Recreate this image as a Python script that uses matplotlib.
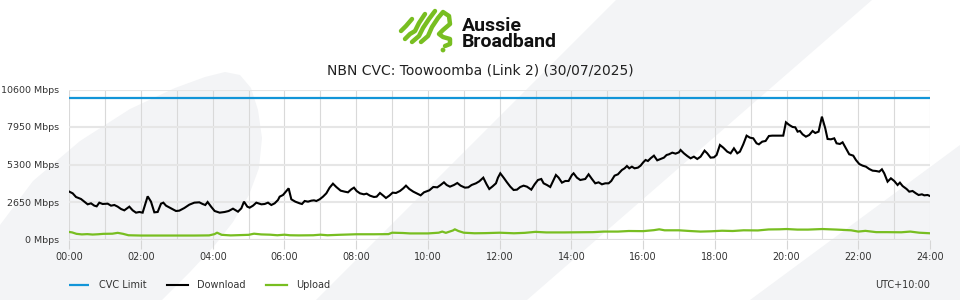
import matplotlib
matplotlib.use("Agg")
import matplotlib.pyplot as plt
from matplotlib.patches import Polygon, Circle

# ---------------- data ----------------
title = "NBN CVC: Toowoomba (Link 2) (30/07/2025)"
cvc_limit_mbps = 10000

dl_hours = [0.000, 0.094, 0.187, 0.326, 0.419, 0.512, 0.605, 0.698, 0.763, 0.837,
            0.930, 1.070, 1.163, 1.256, 1.349, 1.442, 1.534, 1.674, 1.767, 1.860,
            1.953, 2.045, 2.185, 2.278, 2.371, 2.464, 2.557, 2.622, 2.697, 2.836,
            2.975, 3.068, 3.208, 3.347, 3.486, 3.625, 3.718, 3.792, 3.857, 3.960,
            4.053, 4.193, 4.332, 4.444, 4.564, 4.704, 4.797, 4.871, 4.964, 5.029,
            5.122, 5.215, 5.355, 5.448, 5.540, 5.633, 5.726, 5.819, 5.866, 5.959,
            6.051, 6.116, 6.191, 6.302, 6.423, 6.488, 6.563, 6.656, 6.749, 6.823,
            6.888, 6.981, 7.074, 7.167, 7.259, 7.352, 7.445, 7.566, 7.678, 7.771,
            7.864, 7.938, 8.012, 8.105, 8.215, 8.291, 8.384, 8.495, 8.570, 8.663,
            8.755, 8.830, 8.923, 9.016, 9.109, 9.220, 9.313, 9.388, 9.481, 9.592,
            9.685, 9.797, 9.890, 10.039, 10.149, 10.261, 10.354, 10.447, 10.522, 10.614,
            10.726, 10.819, 10.912, 11.033, 11.126, 11.218, 11.339, 11.432, 11.544, 11.636,
            11.711, 11.804, 11.897, 11.953, 12.018, 12.111, 12.204, 12.297, 12.389, 12.482,
            12.575, 12.668, 12.761, 12.882, 12.975, 13.068, 13.161, 13.226, 13.319, 13.411,
            13.504, 13.569, 13.644, 13.737, 13.830, 13.922, 14.015, 14.062, 14.155, 14.248,
            14.387, 14.480, 14.573, 14.666, 14.759, 14.852, 14.945, 15.038, 15.112, 15.205,
            15.298, 15.409, 15.484, 15.549, 15.614, 15.688, 15.762, 15.855, 15.930, 16.004,
            16.069, 16.134, 16.209, 16.302, 16.394, 16.487, 16.580, 16.655, 16.720, 16.813,
            16.906, 16.999, 17.045, 17.138, 17.231, 17.324, 17.417, 17.510, 17.603, 17.714,
            17.789, 17.882, 17.975, 18.049, 18.142, 18.235, 18.347, 18.440, 18.533, 18.626,
            18.700, 18.793, 18.886, 18.979, 19.072, 19.164, 19.229, 19.322, 19.415, 19.508,
            19.601, 19.694, 19.815, 19.908, 19.983, 20.076, 20.169, 20.243, 20.308, 20.373,
            20.447, 20.540, 20.633, 20.726, 20.800, 20.893, 20.986, 21.079, 21.144, 21.237,
            21.330, 21.395, 21.488, 21.563, 21.655, 21.748, 21.860, 21.934, 22.027, 22.120,
            22.213, 22.306, 22.399, 22.492, 22.585, 22.659, 22.724, 22.817, 22.910, 23.003,
            23.096, 23.161, 23.235, 23.347, 23.422, 23.514, 23.607, 23.682, 23.775, 23.840,
            23.933, 23.998]
dl_mbps = [3381, 3263, 3004, 2862, 2674, 2486, 2556, 2391, 2344, 2603,
           2509, 2533, 2391, 2438, 2321, 2156, 2061, 2321, 2061, 1897,
           1944, 1897, 3051, 2674, 1920, 1944, 2533, 2603, 2391, 2203,
           2014, 2038, 2226, 2462, 2603, 2627, 2509, 2438, 2650, 2300,
           2014, 1897, 1944, 2014, 2179, 1967, 2203, 2674, 2321, 2250,
           2391, 2603, 2486, 2509, 2603, 2438, 2556, 2792, 3027, 3145,
           3428, 3616, 2839, 2674, 2556, 2509, 2721, 2674, 2745, 2768,
           2721, 2839, 3027, 3263, 3664, 3946, 3711, 3452, 3381, 3334,
           3546, 3664, 3428, 3263, 3192, 3240, 3098, 3004, 3027, 3287,
           3098, 2933, 3098, 3310, 3287, 3428, 3616, 3805, 3569, 3381,
           3263, 3122, 3334, 3475, 3711, 3687, 3852, 4040, 3852, 3734,
           3852, 3993, 3805, 3664, 3687, 3852, 3970, 4111, 4370, 3899,
           3569, 3758, 3970, 4370, 4677, 4370, 4040, 3734, 3499, 3522,
           3711, 3805, 3734, 3522, 3899, 4205, 4276, 3970, 3852, 3711,
           4205, 4559, 4370, 4017, 4135, 4135, 4559, 4677, 4370, 4205,
           4276, 4606, 4276, 3970, 4040, 3899, 3970, 3970, 4135, 4512,
           4606, 4912, 5030, 5195, 5030, 5148, 5030, 5077, 5219, 5454,
           5619, 5548, 5737, 5925, 5595, 5690, 5784, 5972, 6019, 6137,
           6067, 6161, 6326, 6090, 5902, 5737, 5855, 5690, 5855, 6279,
           6090, 5784, 5807, 5972, 6679, 6491, 6208, 6090, 6443, 6090,
           6208, 6726, 7339, 7197, 7150, 6797, 6726, 6915, 6962, 7315,
           7339, 7339, 7339, 7339, 8281, 8093, 7951, 7928, 7622, 7669,
           7433, 7268, 7386, 7669, 7527, 7622, 8682, 7857, 7103, 7080,
           7150, 6797, 6750, 6868, 6444, 6020, 5925, 5619, 5337, 5219,
           5148, 4983, 4865, 4842, 4794, 4959, 4677, 4088, 4323, 4135,
           3852, 4017, 3781, 3569, 3381, 3428, 3263, 3145, 3192, 3122,
           3145, 3075]

ul_hours = [0.0, 0.08, 0.2, 0.35, 0.5, 0.65, 0.8, 0.95, 1.2, 1.35, 1.5, 1.65, 2.0, 2.5,
            3.0, 3.5, 3.9, 4.05, 4.12, 4.25, 4.5, 5.0, 5.15, 5.35, 5.6, 5.8, 6.0, 6.15,
            6.4, 6.8, 7.0, 7.2, 7.5, 8.0, 8.5, 8.9, 9.0, 9.3, 9.5, 10.0, 10.3, 10.4,
            10.5, 10.7, 10.75, 10.85, 11.0, 11.3, 11.6, 12.0, 12.4, 12.7, 13.0, 13.3,
            13.8, 14.2, 14.6, 14.9, 15.3, 15.6, 16.0, 16.3, 16.45, 16.6, 17.0, 17.3,
            17.6, 17.9, 18.2, 18.5, 18.8, 19.2, 19.5, 19.8, 20.0, 20.3, 20.6, 21.0,
            21.4, 21.8, 22.0, 22.2, 22.5, 22.8, 23.2, 23.45, 23.7, 24.0]
ul_mbps = [530, 500, 400, 360, 380, 350, 370, 400, 410, 470, 400, 300, 280, 280,
           280, 280, 290, 380, 480, 330, 290, 330, 410, 360, 340, 300, 340, 300,
           290, 300, 340, 300, 330, 370, 370, 380, 480, 460, 430, 430, 480, 560,
           470, 640, 720, 600, 480, 440, 450, 480, 440, 470, 540, 500,
           500, 510, 520, 560, 560, 600, 590, 660, 720, 650, 650, 600,
           560, 580, 620, 600, 650, 640, 710, 720, 740, 700, 700, 740,
           700, 650, 560, 610, 520, 520, 510, 560, 480, 440]

y_ticks = [0, 2650, 5300, 7950, 10600]
y_tick_labels = ["0 Mbps", "2650 Mbps", "5300 Mbps", "7950 Mbps", "10600 Mbps"]
x_ticks = list(range(0, 25, 2))
x_tick_labels = ["%02d:00" % h for h in x_ticks]
legend_labels = ["CVC Limit", "Download", "Upload"]
timezone_label = "UTC+10:00"
brand_name = "Aussie\nBroadband"

# ---------------- figure ----------------
W, H = 960, 300
fig = plt.figure(figsize=(9.6, 3.0), dpi=100)
fig.patch.set_facecolor("white")

# decorative background (pixel coordinates, y downward)
bg = fig.add_axes([0, 0, 1, 1], zorder=0)
bg.set_xlim(0, W)
bg.set_ylim(H, 0)
bg.axis("off")
band = "#f3f4f6"
left_shape = [(0, 300), (0, 225), (33, 181), (80, 141), (130, 109), (175, 88),
              (205, 77), (225, 72), (240, 75), (251, 88), (258, 110), (262, 138),
              (259, 168), (249, 195), (233, 222), (215, 245), (190, 272), (162, 300)]
bg.add_patch(Polygon(left_shape, closed=True, facecolor=band, edgecolor="none"))
bg.add_patch(Polygon([(316, 300), (616, 0), (872, 0), (527, 300)], closed=True,
                     facecolor=band, edgecolor="none"))
bg.add_patch(Polygon([(750, 300), (960, 145), (960, 300)], closed=True,
                     facecolor=band, edgecolor="none"))

# logo
green = "#78be21"
swirls = [
    [(401, 31), (406, 26), (412, 19)],
    [(405, 39), (410, 34), (415, 31), (419, 23), (425, 14)],
    [(412, 42), (419, 36), (423, 28), (429, 19), (435, 11)],
    [(421, 42), (428, 36), (432, 27), (438, 18), (443, 12), (449, 16), (450, 24),
     (443, 30), (439, 34), (443, 37), (450, 39), (450, 44), (445, 46)],
]
for s in swirls:
    xs, ys = zip(*s)
    bg.plot(xs, ys, color=green, lw=3.2, solid_capstyle="round", solid_joinstyle="round")
bg.add_patch(Circle((443, 50), 2.4, facecolor=green, edgecolor="none"))
bg.text(462, 34, brand_name, fontsize=14, fontweight="bold", family="Roboto",
        color="#111111", ha="left", va="center", linespacing=0.88)
bg.text(480, 70, title, fontsize=10, color="#222222", ha="center", va="center",
        family="DejaVu Sans")

# ---------------- main axes ----------------
x0, x1 = 69.3, 930.0
y_top, y_bot = 89.5, 239.5
ax = fig.add_axes([x0 / W, 1 - y_bot / H, (x1 - x0) / W, (y_bot - y_top) / H], zorder=1)
ax.patch.set_alpha(0)
ax.set_xlim(0, 24)
ax.set_ylim(0, 10600)
for sp in ax.spines.values():
    sp.set_visible(False)

ax.set_yticks(y_ticks)
ax.set_yticklabels(y_tick_labels)
ax.set_xticks(x_ticks)
ax.set_xticklabels(x_tick_labels)
ax.set_xticks(range(0, 25), minor=True)
ax.tick_params(axis="y", length=0, pad=7.5, labelsize=6.8, labelcolor="#333333")
ax.tick_params(axis="x", which="major", length=6.5, width=0.8, color="#d6d6d6",
               pad=2.5, labelsize=6.9, labelcolor="#333333")
ax.tick_params(axis="x", which="minor", length=0)
ax.grid(axis="x", which="both", color="#d9d9d9", lw=0.8, zorder=0)
ax.grid(axis="y", which="major", color="#e6e6e6", lw=1.5, zorder=0)
ax.axhline(0, color="#dedede", lw=2.2, zorder=1)
ax.set_axisbelow(True)

l_cvc, = ax.plot([0, 24], [cvc_limit_mbps, cvc_limit_mbps], color="#1295d8", lw=1.6,
                 label=legend_labels[0], zorder=3, solid_capstyle="butt")
l_dl, = ax.plot(dl_hours, dl_mbps, color="#000000", lw=1.5, label=legend_labels[1],
                zorder=4, solid_joinstyle="miter")
l_ul, = ax.plot(ul_hours, ul_mbps, color="#78be21", lw=1.6, label=legend_labels[2],
                zorder=4)

fig.legend(handles=[l_cvc, l_dl, l_ul], labels=legend_labels, loc="center left",
           bbox_to_anchor=(69 / W, 1 - 285 / H), ncol=3, frameon=False, fontsize=7,
           handlelength=2.1, handletextpad=1.0, columnspacing=2.1, borderpad=0,
           borderaxespad=0, labelcolor="#333333")
fig.text(930 / W, 1 - 285 / H, timezone_label, fontsize=7, color="#333333",
         ha="right", va="center")

fig.savefig("out.png", dpi=100, facecolor="white")
